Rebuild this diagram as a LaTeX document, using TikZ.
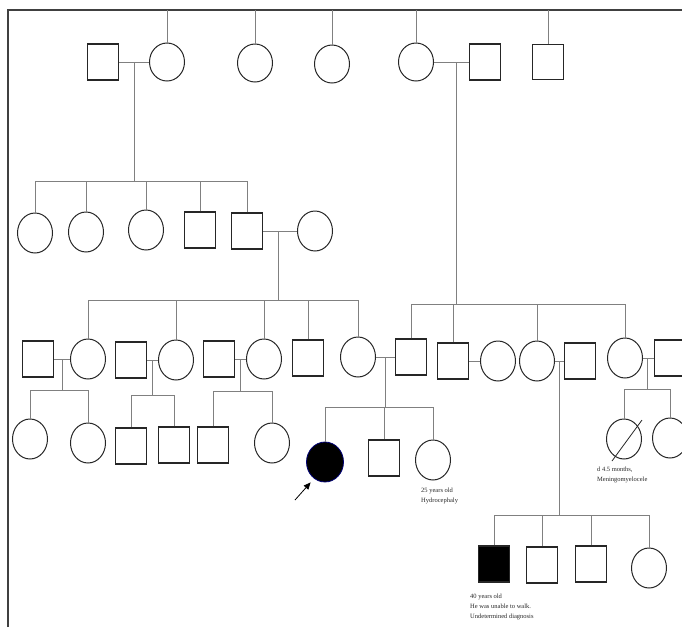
\documentclass[tikz,border=0pt]{standalone}
\usepackage{fontspec}
\setmainfont{Liberation Serif}
\usetikzlibrary{arrows.meta,calc,positioning,shapes.geometric}

\begin{document}
\begin{tikzpicture}[x=1pt,y=-1pt,
    female/.style={ellipse,draw=black!85,line width=1pt,minimum width=35pt,minimum height=40pt,inner sep=0pt},
    male/.style={rectangle,draw=black!85,line width=1.3pt,minimum width=31pt,minimum height=36pt,inner sep=0pt},
    affected/.style={fill=black},
    link/.style={draw=black!50,line width=0.7pt},
    note/.style={align=left,anchor=north west,inner sep=0pt,text=black!85,font=\fontsize{6.5}{10}\selectfont}]
    \useasboundingbox (0,0) rectangle (682,627);
    \clip (0,0) rectangle (682,627);

    % Frame
    \draw[black!75,line width=1.3pt] (8,627) -- (8,10) -- (682,10);
    \coordinate (top) at (0,10);

    % Generation I
    \node[male] (i1) at (103,62) {};
    \node[female,minimum height=38pt] (i2) at (167,62) {};
    \node[female,minimum height=38pt] (i3) at (255,63) {};
    \node[female,minimum height=38pt] (i4) at (332,64) {};
    \node[female,minimum height=38pt] (i5) at (416,62) {};
    \node[male] (i6) at (485,62) {};
    \node[male,minimum height=35pt] (i7) at (548,62) {};
    \foreach \n in {i2,i3,i4,i5,i7}
        \draw[link] (\n.north) -- (\n.north |- top);

    % Generation II
    \node[female] (ii1) at (35,233) {};
    \node[female] (ii2) at (86,232) {};
    \node[female] (ii3) at (146,230) {};
    \node[male] (ii4) at (200,230) {};
    \node[male] (ii5) at (247,231) {};
    \node[female] (ii6) at (315,231) {};

    % Generation III
    \node[male] (iii1) at (38,359) {};
    \node[female] (iii2) at (88,359) {};
    \node[male] (iii3) at (131,360) {};
    \node[female] (iii4) at (176,360) {};
    \node[male] (iii5) at (219,359) {};
    \node[female] (iii6) at (264,359) {};
    \node[male] (iii7) at (308,358) {};
    \node[female] (iii8) at (358,357) {};
    \node[male] (iii9) at (411,357) {};
    \node[male] (iii10) at (453,361) {};
    \node[female] (iii11) at (498,361) {};
    \node[female] (iii12) at (537,361) {};
    \node[male] (iii13) at (580,361) {};
    \node[female] (iii14) at (625,358) {};
    \node[male] (iii15) at (670,358) {};

    % Generation IV
    \node[female] (iv1) at (30,439) {};
    \node[female] (iv2) at (88,443) {};
    \node[male] (iv3) at (131,446) {};
    \node[male] (iv4) at (174,445) {};
    \node[male] (iv5) at (213,445) {};
    \node[female] (iv6) at (272,443) {};
    \node[female,affected,draw=blue!45!black,line width=0.8pt,minimum width=37pt] (iv7) at (325,462) {};
    \node[male] (iv8) at (384,458) {};
    \node[female] (iv9) at (433,460) {};
    \node[female] (iv10) at (624,439) {};
    \node[female] (iv11) at (670,438) {};

    % Generation V
    \node[male,affected] (v1) at (494,564) {};
    \node[male] (v2) at (542,565) {};
    \node[male] (v3) at (591,564) {};
    \node[female] (v4) at (649,568) {};

    % Couples
    \foreach \a/\b in {i1/i2,i5/i6,ii5/ii6,iii1/iii2,iii3/iii4,iii5/iii6,iii8/iii9,iii10/iii11,iii12/iii13,iii14/iii15}
        \draw[link] (\a) -- (\b);
    \coordinate (m1) at ($(i1.east)!0.5!(i2.west)$);
    \coordinate (m2) at ($(i5.east)!0.65!(i6.west)$);
    \coordinate (m3) at ($(ii5.east)!0.45!(ii6.west)$);
    \coordinate (m4) at ($(iii1.east)!0.5!(iii2.west)$);
    \coordinate (m5) at ($(iii3.east)!0.5!(iii4.west)$);
    \coordinate (m6) at ($(iii5.east)!0.5!(iii6.west)$);
    \coordinate (m7) at ($(iii8.east)!0.5!(iii9.west)$);
    \coordinate (m8) at ($(iii12.east)!0.5!(iii13.west)$);
    \coordinate (m9) at ($(iii14.east)!0.4!(iii15.west)$);

    % Lines of descent and sibships
    \foreach \m/\y/\first/\last/\kids in {
        m1/181/ii1/ii5/{ii1,ii2,ii3,ii4,ii5},
        m3/300/iii2/iii8/{iii2,iii4,iii6,iii7,iii8},
        m2/304/iii9/iii14/{iii9,iii10,iii12,iii14},
        m4/390/iv1/iv2/{iv1,iv2},
        m5/395/iv3/iv4/{iv3,iv4},
        m6/391/iv5/iv6/{iv5,iv6},
        m7/407/iv7/iv9/{iv7,iv8,iv9},
        m9/389/iv10/iv11/{iv10,iv11},
        m8/515/v1/v4/{v1,v2,v3,v4}} {
        \draw[link] (\m) -- (\m |- 0,\y);
        \draw[link] (\first.north |- 0,\y) -- (\last.north |- 0,\y);
        \foreach \k in \kids
            \draw[link] (\k.north) -- (\k.north |- 0,\y);
    }

    % Deceased
    \draw[black!85,line width=0.8pt] ($(iv10.center)+(-12,22)$) -- ($(iv10.center)+(18,-19)$);

    % Proband
    \coordinate (tail) at (295,500);
    \draw[-{Triangle[length=7pt,width=6pt]},line width=0.8pt] (tail) -- ($(iv7.south west)+(-1,6)$);

    % Notes
    \node[note] (n1) at (421,488) {25 years old\\Hydrocephaly};
    \node[note] (n2) at (597,467) {d 4.5 months,\\Meningomyelocele};
    \node[note] (n3) at (470,594) {40 years old\\He was unable to walk.\\Undetermined diagnosis};
\end{tikzpicture}
\end{document}
